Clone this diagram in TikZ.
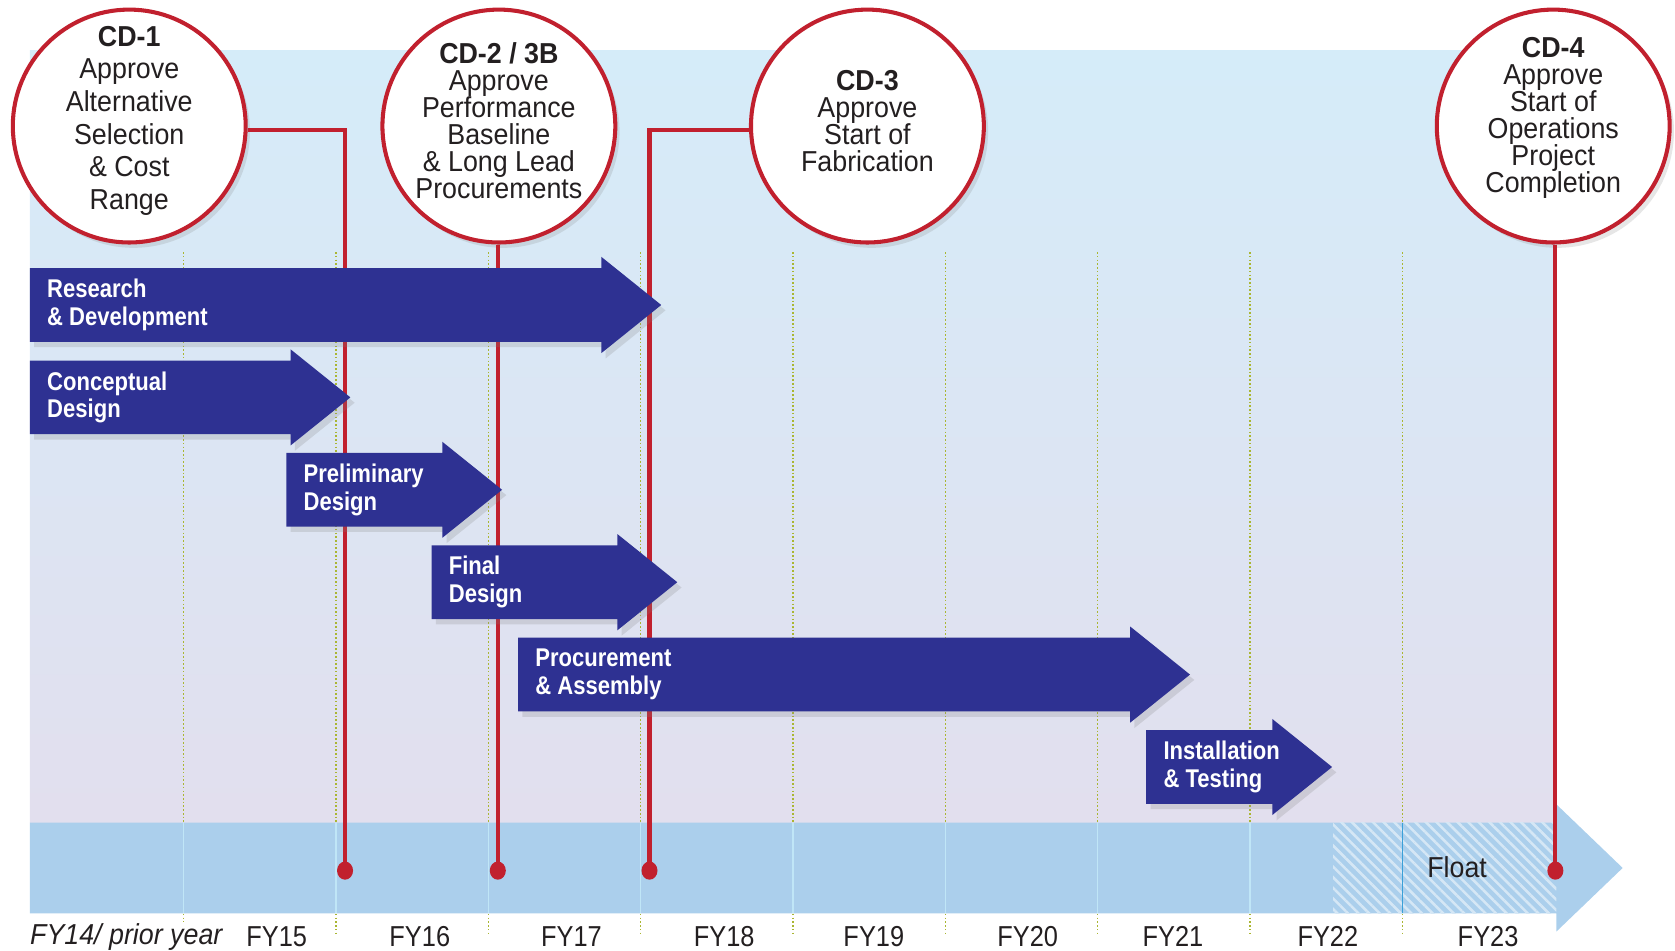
\documentclass[tikz,border=0pt]{standalone}
\usepackage{fontspec}
\setmainfont{Liberation Sans}
\newfontfamily\circfont[FakeStretch=0.93]{Liberation Sans}
\newfontfamily\phasefont[FakeStretch=0.86]{Liberation Sans}
\newfontfamily\yearfont[FakeStretch=0.88]{Liberation Sans}
\usetikzlibrary{positioning,calc,shadows,patterns.meta}

\definecolor{cdred}{RGB}{193,32,46}
\definecolor{phaseblue}{RGB}{46,49,146}
\definecolor{bandblue}{RGB}{171,207,236}
\definecolor{paneltop}{RGB}{213,236,249}
\definecolor{panelbot}{RGB}{226,223,238}
\definecolor{gridgreen}{RGB}{170,182,50}
\definecolor{gridcyan}{RGB}{192,230,247}
\definecolor{floatline}{RGB}{58,160,216}
\definecolor{inktext}{RGB}{35,31,32}

\newcommand{\phase}[5]{%
  \fill[phasebox] (#2,#4-34.5) -- (#3-56,#4-34.5) -- (#3-56,#4-45) -- (#3,#4)
    -- (#3-56,#4+45) -- (#3-56,#4+34.5) -- (#2,#4+34.5) -- cycle;
  \node[phasetext] (#1) at (#2,#4) {#5}}

\tikzset{
  milestone/.style={circle, draw=cdred, line width=3.8pt, fill=white,
    minimum size=218pt, inner sep=0pt,
    drop shadow={opacity=.2, shadow xshift=4pt, shadow yshift=-5pt}},
  mstext/.style={font=\circfont\fontsize{27}{#1}\selectfont, text=inktext,
    align=center, inner sep=0pt},
  mstext/.default=25.3,
  cdline/.style={cdred, line width=3.8pt},
  phasebox/.style={fill=phaseblue,
    drop shadow={opacity=.22, shadow xshift=4pt, shadow yshift=-5pt}},
  phasetext/.style={anchor=west, inner xsep=16pt, inner ysep=0pt, text=white,
    align=left, font=\phasefont\bfseries\fontsize{24}{26}\selectfont},
  yearlbl/.style={font=\yearfont\fontsize{27}{27}\selectfont, text=inktext},
  fygrid/.style={gridgreen, line width=1.3pt, dash pattern=on 1.5pt off 2pt},
  bandtick/.style={gridcyan, line width=1.3pt}
}

\begin{document}
\begin{tikzpicture}[x=1pt,y=-1pt]
\useasboundingbox (0,0) rectangle (1568,890);

\shade[top color=paneltop, bottom color=panelbot] (28,47) rectangle (1457,770);
\fill[bandblue] (28,770) -- (1457,770) -- (1457,753) -- (1519,812.5)
  -- (1457,872) -- (1457,855) -- (28,855) -- cycle;
\fill[pattern={Lines[angle=-45,distance=7pt,line width=2.4pt]},
  pattern color=white!50!bandblue] (1248,770) rectangle (1457,855);

\draw[fygrid] (172,236) -- (172,863);
\foreach \i [evaluate=\i as \gx using 172+142.6*\i] in {1,...,8}
  \draw[fygrid] (\gx,236) -- (\gx,875);
\foreach \i [evaluate=\i as \gx using 172+142.6*\i] in {0,...,8}
  \draw[bandtick] (\gx,770) -- (\gx,855);
\draw[floatline, line width=1.6pt] (1312.8,770) -- (1312.8,855);

\node[yearlbl, anchor=west, inner xsep=0pt, font=\circfont\fontsize{27}{27}\selectfont]
  (fy14) at (28,877) {\itshape FY14/ prior year};
\foreach \yr/\lx in {15/259,16/393,17/535,18/678,19/818,20/962,21/1098,22/1243,23/1393}
  \node[yearlbl] (fy\yr) at (\lx,877) {FY\yr};
\node[yearlbl, font=\circfont\fontsize{27}{27}\selectfont] (float) at (1364,812) {Float};

\node[milestone] (cd1) at (121,118) {};
\node[milestone] (cd2) at (467,118) {};
\node[milestone] (cd3) at (812,118) {};
\node[milestone] (cd4) at (1454,118) {};

\node[mstext=30.5] (cd1txt) at ([yshift=5pt]cd1.center)
  {\textbf{CD-1}\\Approve\\Alternative\\Selection\\\& Cost\\Range};
\node[mstext] (cd2txt) at ([yshift=5pt]cd2.center)
  {\textbf{CD-2 / 3B}\\Approve\\Performance\\Baseline\\\& Long Lead\\Procurements};
\node[mstext] (cd3txt) at ([yshift=5pt]cd3.center)
  {\textbf{CD-3}\\Approve\\Start of\\Fabrication};
\node[mstext] (cd4txt) at ([yshift=8pt]cd4.center)
  {\textbf{CD-4}\\Approve\\Start of\\Operations\\Project\\Completion};

\coordinate (dot1) at (323,815);
\coordinate (dot2) at (466,815);
\coordinate (dot3) at (608,815);
\coordinate (dot4) at (1456,815);

\draw[cdline] ([yshift=-4pt]cd1.east) -| (dot1);
\draw[cdline] (cd2.south -| dot2) -- (dot2);
\draw[cdline] ([yshift=-4pt]cd3.west) -| (dot3);
\draw[cdline] (cd4.south -| dot4) -- (dot4);
\foreach \d in {dot1,dot2,dot3,dot4}
  \fill[cdred] (\d) circle[x radius=7.5, y radius=8.5];

\phase{rnd}{28}{619}{285.5}{Research\\\& Development};
\phase{concept}{28}{328}{372}{Conceptual\\Design};
\phase{prelim}{268}{470}{458.5}{Preliminary\\Design};
\phase{final}{404}{634}{545}{Final\\Design};
\phase{procure}{485}{1114}{631.5}{Procurement\\\& Assembly};
\phase{install}{1073}{1247}{718}{Installation\\\& Testing};

\end{tikzpicture}
\end{document}
